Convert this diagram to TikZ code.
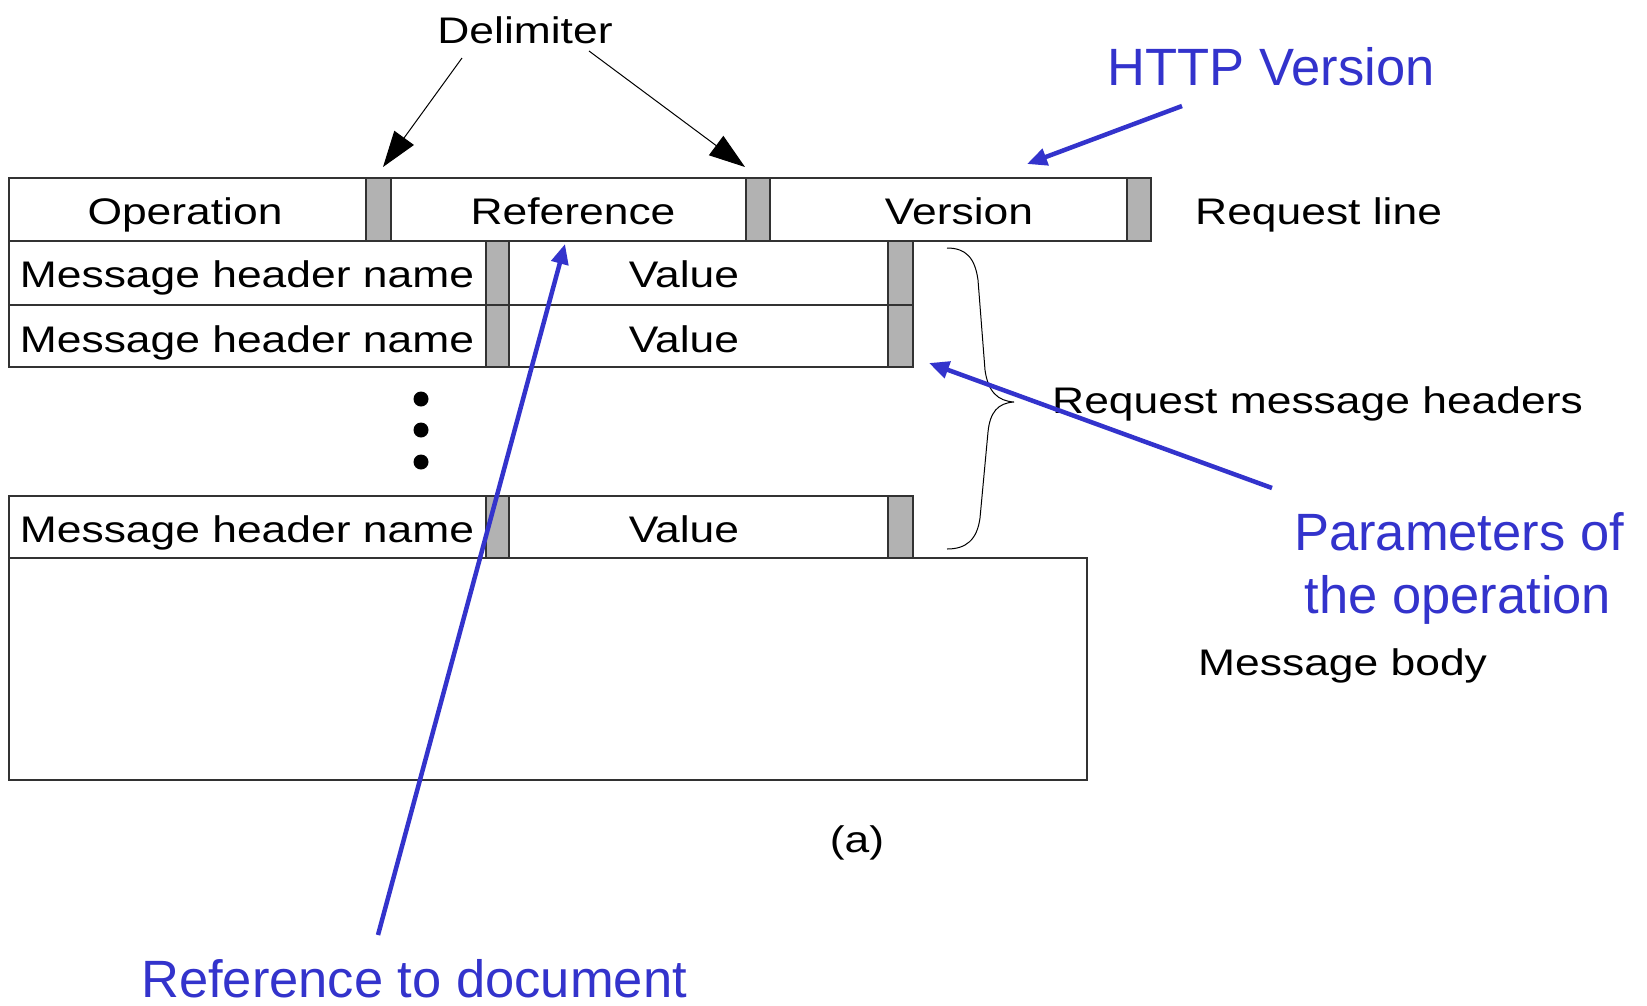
\documentclass[tikz,border=0pt]{standalone}
\usepackage{fontspec}
\newfontfamily\blkfont[FakeStretch=1.2]{Liberation Sans}
\newfontfamily\blufont{Liberation Sans}
\usetikzlibrary{arrows.meta}
\definecolor{myblue}{RGB}{51,51,204}
\definecolor{delimgray}{RGB}{178,178,178}
\definecolor{edgecol}{RGB}{50,50,50}
\begin{document}
\begin{tikzpicture}[x=1pt,y=-1pt,
  cell/.style={draw=edgecol, line width=1.6pt, anchor=north west, inner sep=0pt, outer sep=0pt, fill=white},
  delimcell/.style={cell, fill=delimgray},
  blk/.style={font=\blkfont\fontsize{37}{44}\selectfont, text=black, inner sep=0pt},
  blu/.style={font=\blufont\fontsize{52.5}{63}\selectfont, text=myblue, inner sep=0pt},
  blackarrow/.style={draw=black, line width=1pt, -{Triangle[length=36pt,width=24pt]}},
  bluearrow/.style={draw=myblue, line width=4.5pt, -{Triangle[length=20pt,width=17pt]}},
  dotmark/.style={ellipse, fill=black, minimum width=14pt, minimum height=16pt, inner sep=0pt}
]
\useasboundingbox (0,0) rectangle (1647,1005);
\fill[white] (0,0) rectangle (1647,1005);

% Request line
\node[cell, minimum width=357pt, minimum height=63pt] (op) at (9,178) {};
\node[delimcell, minimum width=25pt, minimum height=63pt] (d1) at (366,178) {};
\node[cell, minimum width=355pt, minimum height=63pt] (ref) at (391,178) {};
\node[delimcell, minimum width=24pt, minimum height=63pt] (d2) at (746,178) {};
\node[cell, minimum width=357pt, minimum height=63pt] (ver) at (770,178) {};
\node[delimcell, minimum width=24pt, minimum height=63pt] (d3) at (1127,178) {};

% Header rows
\node[cell, minimum width=477pt, minimum height=64pt] (n1) at (9,241) {};
\node[delimcell, minimum width=23pt, minimum height=64pt] (e1) at (486,241) {};
\node[cell, minimum width=379pt, minimum height=64pt] (v1) at (509,241) {};
\node[delimcell, minimum width=25pt, minimum height=64pt] (f1) at (888,241) {};

\node[cell, minimum width=477pt, minimum height=62pt] (n2) at (9,305) {};
\node[delimcell, minimum width=23pt, minimum height=62pt] (e2) at (486,305) {};
\node[cell, minimum width=379pt, minimum height=62pt] (v2) at (509,305) {};
\node[delimcell, minimum width=25pt, minimum height=62pt] (f2) at (888,305) {};

\node[cell, minimum width=477pt, minimum height=62pt] (n3) at (9,496) {};
\node[delimcell, minimum width=23pt, minimum height=62pt] (e3) at (486,496) {};
\node[cell, minimum width=379pt, minimum height=62pt] (v3) at (509,496) {};
\node[delimcell, minimum width=25pt, minimum height=62pt] (f3) at (888,496) {};

% Body
\node[cell, minimum width=1078pt, minimum height=222pt] (body) at (9,558) {};

% Cell texts
\node[blk, anchor=base] (topop) at (185,224) {Operation};
\node[blk, anchor=base] (topref) at (573,224) {Reference};
\node[blk, anchor=base] (topver) at (959,224) {Version};
\node[blk, anchor=base] (tn1) at (247,287) {Message header name};
\node[blk, anchor=base] (tv1) at (684,287) {Value};
\node[blk, anchor=base] (tn2) at (247,352) {Message header name};
\node[blk, anchor=base] (tv2) at (684,352) {Value};
\node[blk, anchor=base] (tn3) at (247,542) {Message header name};
\node[blk, anchor=base] (tv3) at (684,542) {Value};

% Dots
\node[circle, fill=black, minimum size=15pt, inner sep=0pt] (dot1) at (421,399) {};
\node[circle, fill=black, minimum size=15pt, inner sep=0pt] (dot2) at (421,430) {};
\node[circle, fill=black, minimum size=15pt, inner sep=0pt] (dot3) at (421,462) {};

% Brace
\draw[line width=1pt, black] (947,248) .. controls (966,248) and (975,258) .. (978,280)
  -- (985,370) .. controls (988,392) and (998,401) .. (1014,402)
  .. controls (998,403) and (990,412) .. (988,432)
  -- (980,518) .. controls (977,540) and (966,549) .. (947,549);

% Side labels
\node[blk, anchor=base west] (reqline) at (1195,224) {Request line};
\node[blk, anchor=base west] (reqhdr) at (1052,413) {Request message headers};
\node[blk, anchor=base west] (msgbody) at (1198,675) {Message body};
\node[blk, anchor=base] (sub) at (857,852) {(a)};

% Delimiter label and arrows
\node[blk, anchor=base] (delim) at (525,43) {Delimiter};
\coordinate (delimA) at (462,58);
\coordinate (delimB) at (589,51);
\coordinate (tipA) at (383,167);
\coordinate (tipB) at (745,167);
\draw[blackarrow] (delimA) -- (tipA);
\draw[blackarrow] (delimB) -- (tipB);

% Blue annotations
\node[blu, anchor=base] (httpv) at (1271,85) {HTTP Version};
\node[blu, anchor=base] (params1) at (1459,550) {Parameters of};
\node[blu, anchor=base] (params2) at (1458,613) {the operation};
\node[blu, anchor=base west, text depth=0pt] (refdoc) at (141,997) {Reference to document};

\coordinate (httpS) at (1182,106);
\coordinate (httpT) at (1027,164);
\coordinate (parS) at (1272,488);
\coordinate (parT) at (929,363);
\coordinate (refS) at (378,935);
\coordinate (refT) at (565,244);
\draw[bluearrow] (httpS) -- (httpT);
\draw[bluearrow] (parS) -- (parT);
\draw[bluearrow] (refS) -- (refT);
\end{tikzpicture}
\end{document}
